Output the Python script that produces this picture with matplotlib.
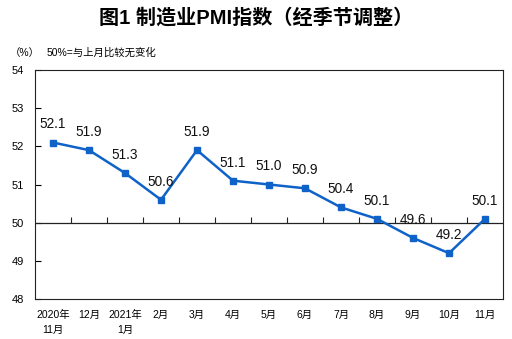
import matplotlib
matplotlib.use('Agg')
import matplotlib.pyplot as plt
from matplotlib.ticker import FixedLocator, NullFormatter

plt.rcParams['font.family'] = ['Liberation Sans', 'Noto Sans CJK SC', 'DejaVu Sans']

# ---------------- datos ----------------
months = ['2020年\n11月', '12月', '2021年\n1月', '2月', '3月', '4月', '5月',
          '6月', '7月', '8月', '9月', '10月', '11月']
pmi = [52.1, 51.9, 51.3, 50.6, 51.9, 51.1, 51.0, 50.9, 50.4, 50.1, 49.6, 49.2, 50.1]
yticks = [48, 49, 50, 51, 52, 53, 54]

blue = '#0F62C8'

fig = plt.figure(figsize=(5.12, 3.39), dpi=100)
ax = fig.add_axes([35/512, 1 - 299/339, 468/512, 229/339])

x = list(range(len(pmi)))
ax.plot(x, pmi, color=blue, lw=1.8, marker='s', ms=4.5, zorder=3)
for xi, v in zip(x, pmi):
    ax.annotate(f'{v:.1f}', (xi, v), xytext=(0, 13), textcoords='offset points',
                ha='center', va='center', fontsize=9.8, color='#111111')

ax.set_xlim(-0.5, len(pmi) - 0.5)
ax.set_ylim(48, 54)
ax.set_yticks(yticks)
ax.tick_params(axis='y', direction='in', length=4, pad=8, labelsize=8, width=0.8)
ax.set_xticks(x)
ax.set_xticklabels(months, fontsize=7.5, linespacing=1.6)
ax.tick_params(axis='x', length=0, pad=8)
for s in ax.spines.values():
    s.set_linewidth(0.8)
    s.set_color('#222222')

# linea de 50 con marcas entre meses
ax.axhline(50, color='#222222', lw=0.9, zorder=2)
sec = ax.secondary_xaxis(2/6)
sec.xaxis.set_major_locator(FixedLocator([i + 0.5 for i in range(len(pmi) - 1)]))
sec.xaxis.set_major_formatter(NullFormatter())
sec.tick_params(direction='in', length=4, width=0.8, colors='#222222')
sec.spines['bottom'].set_visible(False)

fig.text(0.5, 1 - 18/339, '图1 制造业PMI指数（经季节调整）', ha='center', va='center',
         fontsize=14.5, fontweight='bold')
fig.text(10/512, 1 - 53/339, '（%）', ha='left', va='center', fontsize=7.5)
fig.text(47/512, 1 - 53/339, '50%=与上月比较无变化', ha='left', va='center', fontsize=7.5)

fig.savefig('out.png', dpi=100)
